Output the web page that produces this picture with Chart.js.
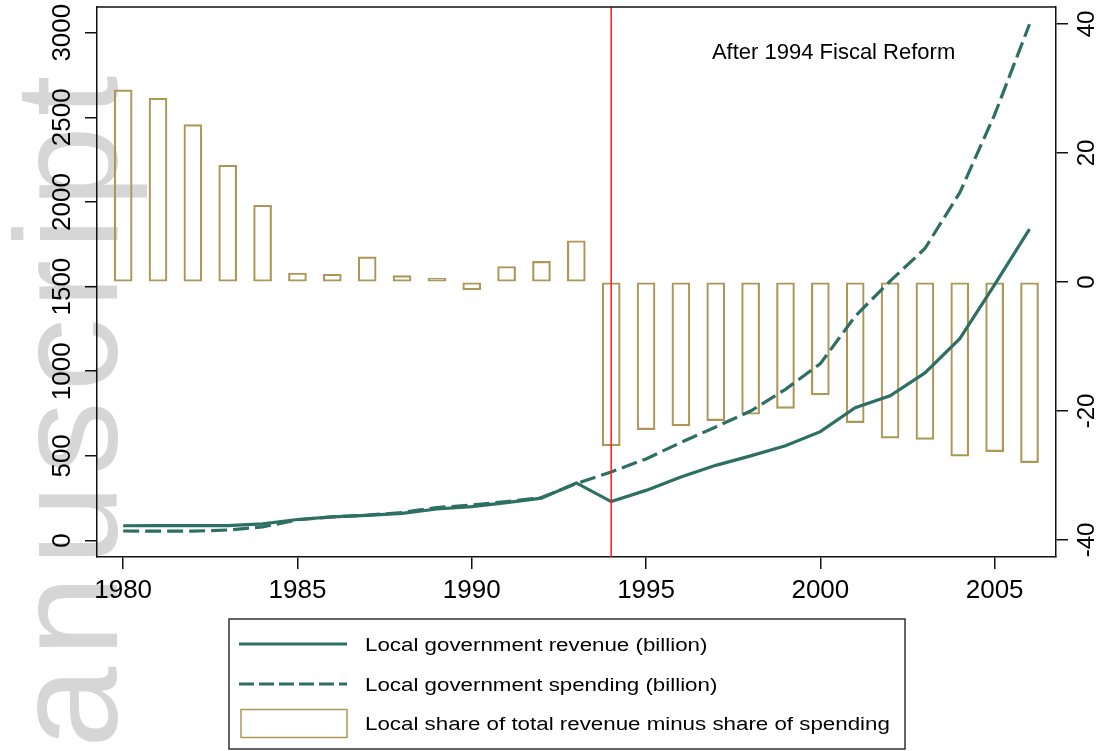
<!DOCTYPE html>
<html>
<head>
<meta charset="utf-8">
<script src="https://cdn.jsdelivr.net/npm/chart.js@4.4.1/dist/chart.umd.min.js"></script>
<style>
  html, body { margin: 0; padding: 0; background: #fff; }
  #wrap { width: 1105px; height: 751px; position: relative; }
</style>
</head>
<body>
<div id="wrap"><canvas id="chart"></canvas></div>
<script>
// data
const years = [1980, 1981, 1982, 1983, 1984, 1985, 1986, 1987, 1988, 1989, 1990, 1991, 1992, 1993,
               1994, 1995, 1996, 1997, 1998, 1999, 2000, 2001, 2002, 2003, 2004, 2005, 2006];
const revenue = [87, 88, 88, 88, 98, 124, 140, 148, 160, 186, 200, 224, 250, 340,
                 230, 296, 375, 444, 500, 560, 643, 785, 855, 990, 1192, 1511, 1840];
const spending = [56, 55, 55, 62, 80, 122, 140, 150, 165, 195, 209, 230, 254, 336,
                  405, 482, 579, 671, 765, 893, 1045, 1325, 1532, 1725, 2055, 2516, 3050];
const shareDiff = [29.8, 28.5, 24.4, 18.1, 11.9, 1.4, 1.2, 3.9, 1.0, 0.6, -1.2, 2.4, 3.2, 6.4,
                   -25.4, -22.9, -22.3, -21.5, -20.5, -19.6, -17.5, -21.8, -24.2, -24.4, -27.0, -26.3, -28.0];
const xTicks = [1980, 1985, 1990, 1995, 2000, 2005];
const leftTicks = [0, 500, 1000, 1500, 2000, 2500, 3000];
const rightTicks = [-40, -20, 0, 20, 40];
const reformYear = 1994;
const labels = {
  revenue: 'Local government revenue (billion)',
  spending: 'Local government spending (billion)',
  share: 'Local share of total revenue minus share of spending',
  note: 'After 1994 Fiscal Reform'
};

const FONT = '"Liberation Sans", Arial, sans-serif';
const TEAL = '#2e6f63';
const GOLD = '#ad9757';
Chart.defaults.font.family = FONT;

function setTicks(list) {
  return s => { s.ticks = list.map(v => ({ value: v })); };
}

const decor = {
  id: 'decor',
  beforeDraw(chart) {
    // faded watermark on the left
    const ctx = chart.ctx;
    ctx.save();
    ctx.fillStyle = '#d6d6d6';
    ctx.font = '146px ' + FONT;
    if ('letterSpacing' in ctx) ctx.letterSpacing = '10px';
    ctx.translate(117, 748);
    ctx.rotate(-Math.PI / 2);
    ctx.textAlign = 'left';
    ctx.textBaseline = 'alphabetic';
    ctx.fillText('anuscript', 0, 0);
    ctx.restore();
  },
  afterDatasetsDraw(chart) {
    const { ctx, chartArea: a, scales } = chart;
    ctx.save();
    // reform line
    const xr = scales.x.getPixelForValue(reformYear);
    ctx.strokeStyle = '#ff1a1a';
    ctx.lineWidth = 1.5;
    ctx.beginPath();
    ctx.moveTo(xr, a.top);
    ctx.lineTo(xr, a.bottom);
    ctx.stroke();
    // top frame
    ctx.strokeStyle = '#111';
    ctx.lineWidth = 1.5;
    ctx.beginPath();
    ctx.moveTo(a.left, a.top);
    ctx.lineTo(a.right, a.top);
    ctx.stroke();
    // note
    ctx.fillStyle = '#000';
    ctx.font = '22px ' + FONT;
    ctx.textAlign = 'left';
    ctx.textBaseline = 'middle';
    ctx.fillText(labels.note, scales.x.getPixelForValue(1996.89), scales.yL.getPixelForValue(2880));
    ctx.restore();
  },
  afterDraw(chart) {
    const { ctx, scales } = chart;
    ctx.save();
    ctx.fillStyle = '#000';
    ctx.textAlign = 'center';
    ctx.textBaseline = 'middle';
    // rotated y tick labels
    ctx.font = '26px ' + FONT;
    leftTicks.forEach(v => {
      ctx.save();
      ctx.translate(63, scales.yL.getPixelForValue(v));
      ctx.rotate(-Math.PI / 2);
      ctx.fillText(String(v), 0, 0);
      ctx.restore();
    });
    ctx.font = '24px ' + FONT;
    rightTicks.forEach(v => {
      ctx.save();
      ctx.translate(1087, scales.yR.getPixelForValue(v));
      ctx.rotate(-Math.PI / 2);
      ctx.fillText(String(v), 0, 0);
      ctx.restore();
    });

    // legend box
    const ds = chart.data.datasets;
    const bx = 229, by = 619, bw = 676, bh = 130;
    ctx.strokeStyle = '#333';
    ctx.lineWidth = 1.5;
    ctx.strokeRect(bx, by, bw, bh);
    const rows = [644, 684, 723];
    // solid sample
    ctx.strokeStyle = ds[0].borderColor;
    ctx.lineWidth = ds[0].borderWidth;
    ctx.beginPath(); ctx.moveTo(239, rows[0]); ctx.lineTo(347, rows[0]); ctx.stroke();
    // dashed sample
    ctx.setLineDash([15, 5]);
    ctx.beginPath(); ctx.moveTo(239, rows[1]); ctx.lineTo(347, rows[1]); ctx.stroke();
    ctx.setLineDash([]);
    // bar sample
    ctx.strokeStyle = ds[2].borderColor;
    ctx.lineWidth = ds[2].borderWidth;
    ctx.strokeRect(241, 709.5, 106, 28);
    // texts, slightly widened
    ctx.fillStyle = '#000';
    ctx.font = '18px ' + FONT;
    ctx.textAlign = 'left';
    [ds[0].label, ds[1].label, ds[2].label].forEach((t, i) => {
      ctx.save();
      ctx.translate(365, rows[i] + 2);
      ctx.scale(1.24, 1);
      ctx.fillText(t, 0, 0);
      ctx.restore();
    });
    ctx.restore();
  }
};

new Chart(document.getElementById('chart'), {
  data: {
    datasets: [
      {
        type: 'line',
        label: labels.revenue,
        data: years.map((y, i) => ({ x: y, y: revenue[i] })),
        yAxisID: 'yL',
        borderColor: TEAL,
        borderWidth: 3.2,
        pointRadius: 0,
        tension: 0
      },
      {
        type: 'line',
        label: labels.spending,
        data: years.map((y, i) => ({ x: y, y: spending[i] })),
        yAxisID: 'yL',
        borderColor: TEAL,
        borderWidth: 3.2,
        borderDash: [16, 6],
        pointRadius: 0,
        tension: 0
      },
      {
        type: 'bar',
        label: labels.share,
        data: years.map((y, i) => ({ x: y, y: shareDiff[i] })),
        yAxisID: 'yR',
        backgroundColor: 'rgba(255,255,255,0)',
        borderColor: GOLD,
        borderWidth: 1.5,
        borderSkipped: false,
        barThickness: 18
      }
    ]
  },
  options: {
    responsive: true,
    maintainAspectRatio: false,
    animation: false,
    layout: { padding: { top: 7, left: 0, right: 0, bottom: 0 } },
    plugins: { legend: { display: false }, tooltip: { enabled: false } },
    scales: {
      x: {
        type: 'linear',
        position: 'bottom',
        offset: false,
        min: 1979.25,
        max: 2006.76,
        afterBuildTicks: setTicks(xTicks),
        afterFit: s => { s.height = 194; },
        ticks: { color: '#000', font: { size: 26 }, padding: 6, maxRotation: 0, callback: v => String(v) },
        grid: { offset: false, drawOnChartArea: false, drawTicks: true, tickLength: 12, color: '#111', lineWidth: 1.5 },
        border: { color: '#111', width: 1.5 }
      },
      yL: {
        type: 'linear',
        position: 'left',
        min: -97.5,
        max: 3151.8,
        afterBuildTicks: setTicks(leftTicks),
        afterFit: s => { s.width = 97; },
        ticks: { display: false },
        grid: { drawOnChartArea: false, drawTicks: true, tickLength: 12, color: '#111', lineWidth: 1.5 },
        border: { color: '#111', width: 1.5 }
      },
      yR: {
        type: 'linear',
        position: 'right',
        min: -42.64,
        max: 42.64,
        afterBuildTicks: setTicks(rightTicks),
        afterFit: s => { s.width = 49; },
        ticks: { display: false },
        grid: { drawOnChartArea: false, drawTicks: true, tickLength: 12, color: '#111', lineWidth: 1.5 },
        border: { color: '#111', width: 1.5 }
      }
    }
  },
  plugins: [decor]
});
</script>
</body>
</html>
